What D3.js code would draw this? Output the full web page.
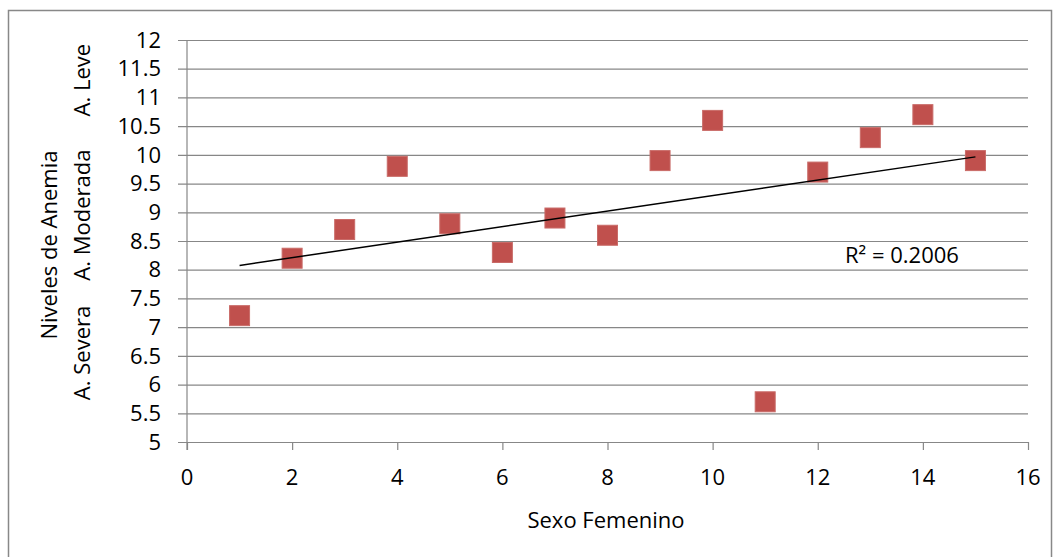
<!DOCTYPE html>
<html>
<head>
  <meta charset="utf-8">
  <title>Niveles de Anemia</title>
  <script src="https://cdn.jsdelivr.net/npm/d3@7/dist/d3.min.js"></script>
  <style>
    body { margin: 0; background: #fff; }
    svg text { font-family: "Open Sans", "Liberation Sans", sans-serif; fill: #000; font-size: 22px; }
    .axis path { display: none; }
    .axis line { stroke: #878787; }
  </style>
</head>
<body>
<svg width="1059" height="557"></svg>
<script>
// data
var xValues = [1, 2, 3, 4, 5, 6, 7, 8, 9, 10, 11, 12, 13, 14, 15];
var yValues = [7.2, 8.2, 8.7, 9.8, 8.8, 8.3, 8.9, 8.6, 9.9, 10.6, 5.7, 9.7, 10.3, 10.7, 9.9];
var xTicks = [0, 2, 4, 6, 8, 10, 12, 14, 16];
var yTicks = [5, 5.5, 6, 6.5, 7, 7.5, 8, 8.5, 9, 9.5, 10, 10.5, 11, 11.5, 12];
var bandLabels = [
  { text: "A. Leve", mid: 11.3 },
  { text: "A. Moderada", mid: 8.95 },
  { text: "A. Severa", mid: 6.55 }
];

var svg = d3.select("svg");
var plotL = 187, plotR = 1028, plotT = 40, plotB = 442;

// outer chart border
svg.append("rect")
    .attr("x", 8.5).attr("y", 10.5)
    .attr("width", 1043).attr("height", 560)
    .attr("fill", "none").attr("stroke", "#888").attr("stroke-width", 1.5);

var x = d3.scaleLinear().domain([0, 16]).range([plotL, plotR]);
var y = d3.scaleLinear().domain([5, 12]).range([plotB, plotT]);

// horizontal gridlines + y ticks
var fmt = function(d) { return String(d); };
svg.append("g")
    .attr("class", "axis")
    .attr("transform", "translate(" + plotR + ",0)")
    .call(d3.axisLeft(y).tickValues(yTicks).tickFormat("").tickSize(plotR - plotL + 9))
  .selectAll("line").attr("stroke-width", 1.2);

svg.append("g").selectAll("text")
    .data(yTicks)
  .enter().append("text")
    .attr("x", 161)
    .attr("y", function(d) { return y(d); })
    .attr("dy", "0.35em")
    .attr("text-anchor", "end")
    .text(fmt);

// y axis line
svg.append("line")
    .attr("x1", plotL).attr("x2", plotL)
    .attr("y1", plotT).attr("y2", plotB + 8)
    .attr("stroke", "#878787").attr("stroke-width", 1.2);

// x axis
svg.append("g")
    .attr("class", "axis")
    .attr("transform", "translate(0," + plotB + ")")
    .call(d3.axisBottom(x).tickValues(xTicks).tickSize(8).tickFormat(""))
  .selectAll("line").attr("stroke-width", 1.2);

svg.append("g").selectAll("text")
    .data(xTicks)
  .enter().append("text")
    .attr("x", function(d) { return x(d); })
    .attr("y", 485)
    .attr("text-anchor", "middle")
    .text(fmt);

// trendline (least squares)
var n = xValues.length;
var mx = d3.mean(xValues), my = d3.mean(yValues);
var sxy = 0, sxx = 0, syy = 0;
for (var i = 0; i < n; i++) {
  sxy += (xValues[i] - mx) * (yValues[i] - my);
  sxx += (xValues[i] - mx) * (xValues[i] - mx);
  syy += (yValues[i] - my) * (yValues[i] - my);
}
var slope = sxy / sxx, icpt = my - slope * mx;
var r2 = (sxy * sxy) / (sxx * syy);
var x0 = d3.min(xValues), x1 = d3.max(xValues);

// markers
var size = 20;
svg.append("g").selectAll("rect")
    .data(xValues)
  .enter().append("rect")
    .attr("x", function(d) { return x(d) - size / 2; })
    .attr("y", function(d, i) { return y(yValues[i]) - size / 2; })
    .attr("width", size).attr("height", size)
    .attr("fill", "#C0504D")
    .attr("stroke", "#C96B68").attr("stroke-width", 1);

svg.append("line")
    .attr("x1", x(x0)).attr("y1", y(icpt + slope * x0))
    .attr("x2", x(x1)).attr("y2", y(icpt + slope * x1))
    .attr("stroke", "#000").attr("stroke-width", 1.5);

svg.append("text")
    .attr("x", 845).attr("y", 263)
    .text("R\u00B2 = " + r2.toFixed(4));

// axis titles
svg.append("text")
    .attr("x", 606).attr("y", 528)
    .attr("text-anchor", "middle")
    .text("Sexo Femenino");

svg.append("text")
    .attr("transform", "translate(57,245) rotate(-90)")
    .attr("text-anchor", "middle")
    .text("Niveles de Anemia");

svg.append("g").selectAll("text")
    .data(bandLabels)
  .enter().append("text")
    .attr("transform", function(d) { return "translate(90," + y(d.mid) + ") rotate(-90)"; })
    .attr("text-anchor", "middle")
    .text(function(d) { return d.text; });
</script>
</body>
</html>
